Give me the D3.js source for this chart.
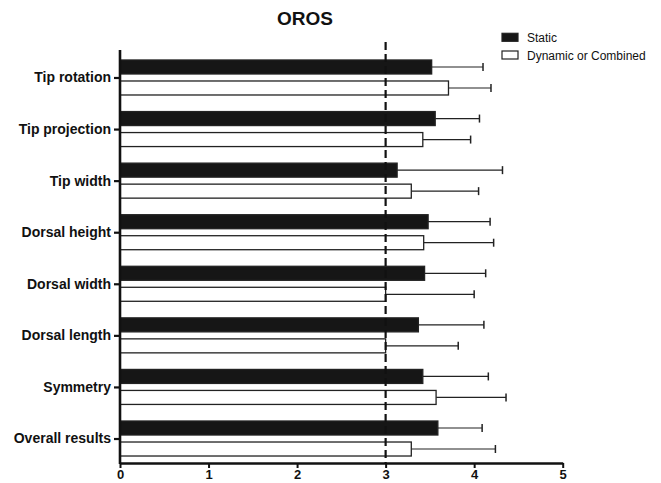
<!DOCTYPE html>
<html>
<head>
<meta charset="utf-8">
<script src="https://cdn.jsdelivr.net/npm/d3@7"></script>
<style>
body { margin: 0; background: #fff; }
text { font-family: "Liberation Sans", Arial, sans-serif; fill: #111; }
</style>
</head>
<body>
<script>
// chart values
var categories = ["Tip rotation", "Tip projection", "Tip width", "Dorsal height",
  "Dorsal width", "Dorsal length", "Symmetry", "Overall results"];
var staticMean = [3.52, 3.56, 3.13, 3.48, 3.44, 3.37, 3.42, 3.59];
var staticErr  = [4.10, 4.06, 4.32, 4.18, 4.13, 4.11, 4.16, 4.09];
var dynMean    = [3.71, 3.42, 3.29, 3.43, 3.00, 3.00, 3.57, 3.29];
var dynErr     = [4.19, 3.96, 4.05, 4.22, 4.00, 3.82, 4.36, 4.24];
var xTicks = [0, 1, 2, 3, 4, 5];
var refLine = 3;
var seriesNames = ["Static", "Dynamic or Combined"];

var width = 661, height = 483;

var svg = d3.select("body").append("svg")
  .attr("width", width)
  .attr("height", height);

var x = d3.scaleLinear().domain([0, 5]).range([120, 562.7]);
var y = d3.scaleBand().domain(categories).range([52.2, 464.8]);

// one row per category, two bars each
var rows = categories.map(function(c, i){
  return [
    {cat: c, v: staticMean[i], e: staticErr[i], s: 0},
    {cat: c, v: dynMean[i], e: dynErr[i], s: 1}
  ];
});
var bars = d3.merge(rows);

var barTop = function(d){
  var mid = y(d.cat) + y.bandwidth() / 2;
  return d.s === 0 ? mid - 18 : mid + 3;
};
var barH = 14;

// error bars
var eb = svg.append("g").selectAll("g").data(bars).enter().append("g");
eb.append("line")
  .attr("x1", function(d){ return x(d.v); })
  .attr("x2", function(d){ return x(d.e); })
  .attr("y1", function(d){ return barTop(d) + barH / 2; })
  .attr("y2", function(d){ return barTop(d) + barH / 2; })
  .attr("stroke", "#222").attr("stroke-width", 1.2);
eb.append("line")
  .attr("x1", function(d){ return x(d.e); })
  .attr("x2", function(d){ return x(d.e); })
  .attr("y1", function(d){ return barTop(d) + barH / 2 - 4; })
  .attr("y2", function(d){ return barTop(d) + barH / 2 + 4; })
  .attr("stroke", "#222").attr("stroke-width", 1.5);

// bars
svg.append("g").selectAll("rect").data(bars).enter().append("rect")
  .attr("x", x(0))
  .attr("y", function(d){ return barTop(d); })
  .attr("width", function(d){ return x(d.v) - x(0); })
  .attr("height", barH)
  .attr("fill", function(d){ return d.s === 0 ? "#161616" : "#fff"; })
  .attr("stroke", "#222")
  .attr("stroke-width", 1.3);

// dashed reference line at 3
svg.append("line")
  .attr("x1", x(refLine)).attr("x2", x(refLine))
  .attr("y1", 42).attr("y2", 463)
  .attr("stroke", "#111")
  .attr("stroke-width", 2.2)
  .attr("stroke-dasharray", "8,4");

// y axis
var yAxis = svg.append("g")
  .attr("transform", "translate(" + x(0) + ",0)")
  .call(d3.axisLeft(y).tickSize(6).tickPadding(3).tickSizeOuter(0));
yAxis.select(".domain").remove();
yAxis.selectAll(".tick line").attr("stroke", "#111").attr("stroke-width", 2.2);
yAxis.selectAll(".tick text")
  .style("font-family", "'Liberation Sans', Arial, sans-serif")
  .style("font-size", "14px").style("font-weight", "bold").attr("fill", "#111");
svg.append("line")
  .attr("x1", x(0)).attr("x2", x(0))
  .attr("y1", 50).attr("y2", 464)
  .attr("stroke", "#111").attr("stroke-width", 2.6);

// x axis
var xAxis = svg.append("g")
  .attr("transform", "translate(0,463)")
  .call(d3.axisBottom(x).tickValues(xTicks).tickFormat(d3.format("d")).tickSize(5).tickPadding(2).tickSizeOuter(0));
xAxis.select(".domain").attr("stroke", "#111").attr("stroke-width", 2.4);
xAxis.selectAll(".tick line").attr("stroke", "#111").attr("stroke-width", 2);
xAxis.selectAll(".tick text")
  .style("font-family", "'Liberation Sans', Arial, sans-serif")
  .style("font-size", "13px").style("font-weight", "bold").attr("fill", "#111");

// title
svg.append("text")
  .attr("x", 305).attr("y", 25)
  .attr("text-anchor", "middle")
  .style("font-size", "19px").style("font-weight", "bold")
  .text("OROS");

// legend
var leg = svg.append("g").selectAll("g").data(seriesNames).enter().append("g")
  .attr("transform", function(d, i){ return "translate(502," + (33.3 + i * 17.7) + ")"; });
leg.append("rect")
  .attr("width", 16).attr("height", 8)
  .attr("fill", function(d, i){ return i === 0 ? "#161616" : "#fff"; })
  .attr("stroke", "#222").attr("stroke-width", 1.2);
leg.append("text")
  .attr("x", 25).attr("y", 8.5)
  .style("font-size", "12px")
  .text(function(d){ return d; });
</script>
</body>
</html>
